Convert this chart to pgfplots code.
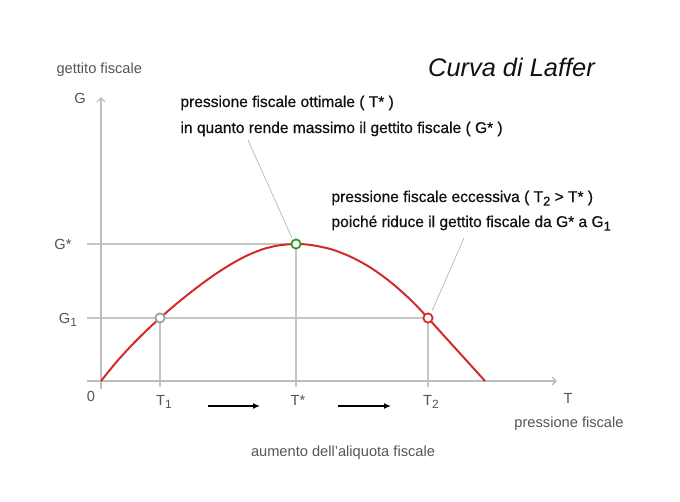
\documentclass[border=0pt]{standalone}
\usepackage{pgfplots}
\pgfplotsset{compat=1.18}
\usetikzlibrary{arrows.meta}
\usepackage{fontspec}
\setmainfont{Liberation Sans}
\newfontfamily\annfont[FakeBold=0.7]{Liberation Sans}
\definecolor{gridc}{HTML}{C6C6C6}
\definecolor{axc}{HTML}{BDBDBD}
\definecolor{lab}{HTML}{555555}
\definecolor{curve}{HTML}{D42A2A}
\definecolor{opt}{HTML}{2E9A2E}
\definecolor{txt}{HTML}{111111}
\newcommand\sub[1]{\raisebox{-0.45ex}{\fontsize{12}{12}\selectfont #1}}
\newcommand\subA[1]{\raisebox{-0.45ex}{\fontsize{13}{13}\selectfont #1}}
\tikzset{fs/.style={font=\fontsize{14.7}{17}\selectfont},
         fa/.style={font=\annfont\fontsize{15.6}{18}\selectfont}}
\begin{document}
\begin{tikzpicture}
\useasboundingbox (-101bp,-121bp) rectangle (579bp,381bp);
\begin{axis}[at={(-101bp,-121bp)}, anchor=south west, x=1bp, y=1bp,
  xmin=-101, xmax=579, ymin=-121, ymax=381, hide axis, clip=false]
% guide lines
\addplot[gridc, line width=1.2bp] coordinates {(-14,137) (195,137)};
\addplot[gridc, line width=1.2bp] coordinates {(-14,63) (327,63)};
\addplot[gridc, line width=1.2bp] coordinates {(59,-6) (59,63)};
\addplot[gridc, line width=1.2bp] coordinates {(195,-6) (195,137)};
\addplot[gridc, line width=1.2bp] coordinates {(327,-6) (327,63)};
% axes
\addplot[axc, line width=1.4bp, -{Straight Barb[length=4bp,width=8bp]}] coordinates {(-14,0) (456,0)};
\addplot[axc, line width=1.4bp, -{Straight Barb[length=4bp,width=8bp]}] coordinates {(0,-8) (0,284)};
% leaders
\addplot[axc, line width=0.8bp] coordinates {(147,241) (191,143)};
\addplot[axc, line width=0.8bp] coordinates {(363,143) (331,70)};
% curve
\addplot[curve, line width=2bp, smooth] coordinates {
(0,0) (15,18.5) (30,35) (45,50) (59,63) (77,78.5) (94,92) (111,104.5)
(127,115) (144,124.5) (161,131.5) (177,135.5) (195,137) (210,136)
(230,131.8) (250,124.1) (270,113.1) (290,98.6) (310,80.8) (327,63)
(345,43) (365,21) (384,0)};
% points
\addplot[only marks, mark=*, mark size=4.6bp, mark options={draw=gray!75, fill=white, line width=1.8bp}] coordinates {(59,63)};
\addplot[only marks, mark=*, mark size=4.6bp, mark options={draw=opt, fill=white, line width=1.8bp}] coordinates {(195,137)};
\addplot[only marks, mark=*, mark size=4.6bp, mark options={draw=curve, fill=white, line width=1.8bp}] coordinates {(327,63)};
% arrows
\addplot[black, line width=1.4bp, -{Latex[length=7bp,width=6bp]}] coordinates {(107,-25) (159,-25)};
\addplot[black, line width=1.4bp, -{Latex[length=7bp,width=6bp]}] coordinates {(237,-25) (290,-25)};
% labels
\node[fs, lab, anchor=base west] at (axis cs:-48,308) {gettito fiscale};
\node[fs, lab] at (axis cs:-21,283) {G};
\node[txt, font=\fontsize{25.5}{28}\selectfont\itshape] at (axis cs:410.5,314) {Curva di Laffer};
\node[fs, lab] at (axis cs:-38,137) {G*};
\node[fs, lab, anchor=base] at (axis cs:-33,58) {G\sub{1}};
\node[fs, lab] at (axis cs:-10,-15) {0};
\node[fs, lab, anchor=base] at (axis cs:63,-24) {T\sub{1}};
\node[fs, lab, anchor=base] at (axis cs:197,-24) {T*};
\node[fs, lab, anchor=base] at (axis cs:330,-24) {T\sub{2}};
\node[fs, lab] at (axis cs:467,-17) {T};
\node[fs, lab] at (axis cs:468,-43) {pressione fiscale};
\node[fs, lab] at (axis cs:242,-72) {aumento dell'aliquota fiscale};
\node[fa, txt, anchor=base west] at (axis cs:76,274) {pressione fiscale ottimale ( T* )};
\node[fa, txt, anchor=base west] at (axis cs:76,248) {in quanto rende massimo il gettito fiscale ( G* )};
\node[fa, txt, anchor=base west] at (axis cs:227,179) {pressione fiscale eccessiva ( T\subA{2} > T* )};
\node[fa, txt, anchor=base west] at (axis cs:227,154) {poiché riduce il gettito fiscale da G* a G\subA{1}};
\end{axis}
\end{tikzpicture}
\end{document}
